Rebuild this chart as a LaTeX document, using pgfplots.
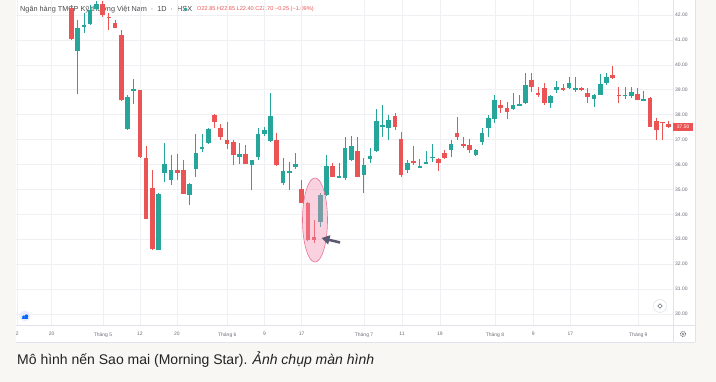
\documentclass[border=0pt]{standalone}
\usepackage{pgfplots}
\pgfplotsset{compat=1.18}
\usepackage{pgfplotstable}
\usepackage{fontspec}
\setmainfont{Liberation Sans}
\usetikzlibrary{arrows.meta}
\definecolor{tvgreen}{HTML}{26A69A}
\definecolor{tvred}{HTML}{EB5454}
\definecolor{gridc}{HTML}{EEF0F3}
\definecolor{sepc}{HTML}{E0E3EB}
\definecolor{bgc}{HTML}{F8F7F3}
\definecolor{lblc}{HTML}{6B6E78}
\definecolor{titc}{HTML}{4A4A4A}
\definecolor{captc}{HTML}{222222}
\definecolor{pinkf}{HTML}{F48FB1}
\definecolor{pinkd}{HTML}{E57393}
\definecolor{arrc}{HTML}{5C5A70}

% green (rising) candles: index open high low close
\pgfplotstableread{
i o h l c
2 40.56 41.80 38.83 41.48
3 41.52 42.08 41.28 41.60
4 41.64 42.40 41.60 42.20
5 42.24 42.55 42.20 42.44
10 37.43 38.79 37.40 38.71
11 38.99 39.43 38.43 39.00
15 32.57 34.84 32.55 34.82
16 35.66 36.86 35.30 36.02
17 35.38 36.38 35.18 35.78
20 34.78 35.24 34.38 35.22
21 35.82 37.22 35.50 36.46
22 36.66 37.22 36.50 36.68
23 36.86 37.45 36.82 37.43
28 36.30 36.86 36.02 36.42
30 35.98 36.20 34.98 36.18
31 36.30 37.47 36.18 37.22
32 37.22 37.51 37.14 37.39
33 36.94 38.87 36.90 37.95
35 35.26 36.26 35.18 35.74
36 35.70 36.10 34.98 35.71
37 35.90 36.46 35.82 36.02
41 33.69 34.86 33.49 34.78
42 34.78 36.38 34.75 35.94
44 35.50 36.06 35.48 35.51
45 35.46 37.10 35.38 36.66
46 36.18 37.14 36.15 36.74
48 35.58 36.26 34.86 35.98
49 36.22 36.66 36.06 36.34
50 36.54 38.23 36.50 37.75
51 37.51 38.39 37.10 37.59
52 37.47 37.99 36.98 37.79
55 35.78 36.18 35.66 36.06
57 35.86 36.22 35.85 35.94
58 36.06 36.54 36.02 36.08
59 36.28 36.82 36.10 36.30
62 36.58 36.98 36.30 36.82
66 36.38 36.62 36.34 36.58
67 36.90 37.47 36.78 37.26
68 37.47 37.99 37.10 37.87
69 37.83 38.79 37.67 38.59
72 38.23 38.87 38.19 38.39
73 38.39 38.79 38.35 38.40
74 38.47 39.67 38.43 39.19
78 38.47 38.80 38.27 38.75
79 38.99 39.35 38.87 39.11
81 39.07 39.51 39.03 39.27
82 39.03 39.51 38.91 39.04
85 38.63 38.82 38.31 38.79
86 38.79 39.63 38.77 39.23
87 39.27 39.67 39.19 39.51
90 38.78 39.11 38.63 38.79
91 38.75 39.11 38.67 38.91
93 38.57 38.95 38.55 38.63
}\greentab

% red (falling) candles: index open high low close
\pgfplotstableread{
i o h l c
1 42.28 42.40 41.00 41.04
6 42.44 42.55 41.90 42.00
7 41.92 42.08 41.40 41.90
8 41.68 41.80 41.46 41.48
9 41.20 41.40 38.55 38.59
12 38.99 39.00 36.28 36.30
13 36.26 36.74 33.80 33.81
14 35.06 35.78 32.58 32.61
18 35.78 36.42 35.38 35.66
19 35.78 36.18 34.80 34.82
24 37.99 38.02 37.47 37.71
25 37.47 37.63 36.98 37.10
26 36.98 37.71 36.62 36.82
27 36.90 36.98 35.98 36.38
29 36.42 36.78 36.00 36.02
34 36.98 37.26 35.95 35.98
38 35.02 35.38 34.44 34.46
39 34.46 34.48 32.95 32.97
40 33.09 33.77 32.85 32.97
43 35.94 36.06 35.48 35.50
47 36.54 37.10 35.48 35.50
53 37.95 38.07 37.39 37.51
54 37.02 37.30 35.50 35.58
56 36.14 36.74 35.98 36.06
60 36.22 36.26 35.72 36.06
61 36.46 36.58 36.22 36.26
63 37.26 37.91 36.98 37.10
64 36.82 37.10 36.66 36.78
65 36.78 37.02 36.46 36.58
70 38.39 38.59 38.07 38.27
71 38.27 38.51 37.83 38.11
75 39.39 39.67 38.91 39.11
76 38.87 39.11 38.71 38.79
77 39.07 39.27 38.39 38.47
80 39.07 39.23 38.95 38.99
83 39.07 39.12 38.95 38.99
84 38.87 39.07 38.47 38.71
88 39.59 39.95 39.45 39.47
89 38.79 39.11 38.47 38.75
92 38.83 39.07 38.57 38.59
94 38.67 38.70 37.49 37.51
95 37.75 37.87 36.98 37.39
96 37.71 37.72 36.98 37.67
97 37.63 37.75 37.45 37.50
}\redtab

\begin{document}
\begin{tikzpicture}[x=1pt,y=1pt]
% page background and chart panel
\fill[bgc, use as bounding box] (-16,-57) rectangle (700,325);
\fill[white] (0,-17) rectangle (679,325);
\draw[sepc, line width=0.6pt] (679,-17) -- (679,325);
\draw[sepc, line width=0.6pt] (0,-17) -- (679,-17);

% legend line at top
\node[anchor=west, inner sep=0pt, text=titc, font=\fontsize{7.3}{8}\selectfont] at (4,315.7)
  {Ngân hàng TMCP Kỹ thương Việt Nam\hspace{4pt}·\hspace{4pt}1D\hspace{4pt}·\hspace{4pt}HSX};
\fill[tvgreen] (169.7,315.7) circle (1.8);
\node[anchor=west, inner sep=0pt, text=tvred, font=\fontsize{5.6}{6}\selectfont] at (181,315.5)
  {O22.85 H22.85 L22.40 C22.70 −0.25 (−1.09\%)};

\begin{axis}[
  at={(0,0)}, anchor=south west,
  scale only axis, width=657pt, height=325pt,
  xmin=-7.92, xmax=97.7, ymin=29.56, ymax=42.60,
  axis line style={draw=none},
  major tick length=0pt,
  grid=major, grid style={gridc, line width=0.5pt},
  ytick={30,...,42},
  yticklabel pos=right,
  /pgf/number format/assume math mode=true,
  yticklabel style={anchor=west, inner sep=0pt, xshift=2pt, text=lblc,
    font=\fontsize{5}{6}\selectfont,
    /pgf/number format/fixed, /pgf/number format/fixed zerofill,
    /pgf/number format/precision=2},
  xtick={-7.7,-2.18,6.06,12.01,17.96,26.05,32.03,38.01,48.03,54.13,60.24,69.08,75.24,81.19,92.13},
  xticklabels={2,20,Tháng 5,12,20,Tháng 6,9,17,Tháng 7,11,19,Tháng 8,9,17,Tháng 9},
  xticklabel style={anchor=north, inner sep=0pt, yshift=-7.2pt, text=lblc,
    font=\fontsize{5}{6}\selectfont},
]
% wicks
\addplot[draw=none, mark=none, forget plot,
  error bars/.cd, y dir=both, y explicit, error mark=none,
  error bar style={draw=tvgreen, line width=0.8pt, solid}]
  table[x=i, y expr={(\thisrow{h}+\thisrow{l})/2}, y error expr={(\thisrow{h}-\thisrow{l})/2}] {\greentab};
\addplot[draw=none, mark=none, forget plot,
  error bars/.cd, y dir=both, y explicit, error mark=none,
  error bar style={draw=tvred, line width=0.8pt, solid}]
  table[x=i, y expr={(\thisrow{h}+\thisrow{l})/2}, y error expr={(\thisrow{h}-\thisrow{l})/2}] {\redtab};
% bodies
\addplot[draw=none, mark=none, forget plot,
  error bars/.cd, y dir=both, y explicit, error mark=none,
  error bar style={draw=tvgreen, line width=4.6pt, solid}]
  table[x=i, y expr={(\thisrow{o}+\thisrow{c})/2}, y error expr={max(abs(\thisrow{c}-\thisrow{o})/2,0.022)}] {\greentab};
\addplot[draw=none, mark=none, forget plot,
  error bars/.cd, y dir=both, y explicit, error mark=none,
  error bar style={draw=tvred, line width=4.6pt, solid}]
  table[x=i, y expr={(\thisrow{o}+\thisrow{c})/2}, y error expr={max(abs(\thisrow{c}-\thisrow{o})/2,0.022)}] {\redtab};
\end{axis}

% scale separators
\draw[sepc, line width=0.6pt] (657,-17) -- (657,325);
\draw[sepc, line width=0.6pt] (0,0) -- (679,0);

% last price tag
\node[anchor=west, fill=tvred, text=white, inner sep=0pt, minimum width=20pt, minimum height=8pt,
  font=\fontsize{5}{6}\selectfont] at (657,197.9) {37.50};

% morning star highlight
\fill[pinkf, opacity=0.4] (299,105) ellipse [x radius=12.5, y radius=42];
\draw[pinkd, line width=0.6pt] (299,105) ellipse [x radius=12.5, y radius=42];
\draw[arrc, line width=2.6pt, -{Triangle[length=8pt,width=9pt]}] (324,82.5) -- (305.5,87);

% small interface icons
\fill[blue!8] (9,9) circle (5.5);
\fill[blue!60!cyan] (7.5,8) circle (1.6);
\fill[blue!60!cyan] (10.3,8.6) circle (2.0);
\fill[blue!60!cyan] (6,7.2) rectangle (12.2,6.6);
\fill[white] (644,19) circle (6.5);
\draw[sepc, line width=0.6pt] (644,19) circle (6.5);
\draw[lblc, line width=0.5pt] (644,21.2) -- (646.2,19) -- (644,16.8) -- (641.8,19) -- cycle;
\draw[lblc, line width=0.9pt, dash pattern=on 0.9pt off 0.9pt] (667,-9) circle (2.6);
\draw[lblc, line width=0.4pt] (667,-9) circle (1.2);

% caption
\node[anchor=west, inner sep=0pt, text=captc, font=\fontsize{14}{16}\selectfont] at (1,-35)
  {Mô hình nến Sao mai (Morning Star). \textit{Ảnh chụp màn hình}};
\end{tikzpicture}
\end{document}
